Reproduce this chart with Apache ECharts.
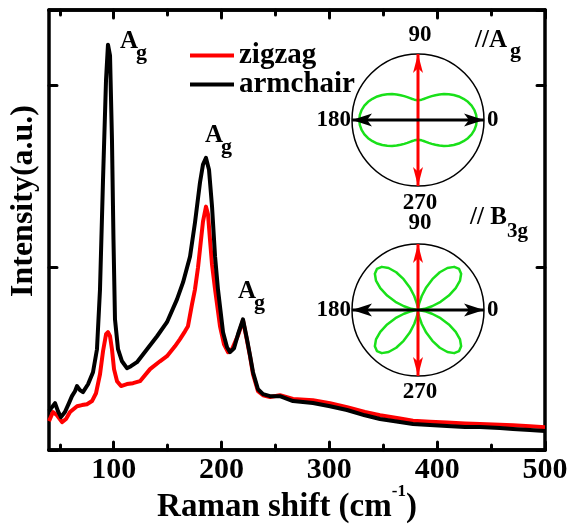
<!DOCTYPE html>
<html><head><meta charset="utf-8">
<script src="https://cdn.jsdelivr.net/npm/echarts@6/dist/echarts.min.js"></script>
<style>html,body{margin:0;padding:0;background:#fff}#c{width:577px;height:531px}</style>
</head><body><div id="c"></div>
<script>
const FONT = '"Times New Roman","Liberation Serif",serif';
const seriesNames = ['zigzag', 'armchair'];
const xMajorTicks = [100, 200, 300, 400, 500];
const xMinorTicks = [50, 150, 250, 350, 450];

// Raman shift (cm-1), intensity (a.u.)
const zigzagPoints = [[40,0.158],[43.7,0.208],[47.4,0.19],[52.1,0.153],[55.8,0.17],[59.5,0.208],[66,0.24],[70.6,0.246],[75.2,0.251],[79.9,0.268],[83.6,0.311],[87.3,0.415],[90.1,0.541],[92.9,0.634],[94.7,0.645],[96.6,0.623],[98.4,0.552],[100.3,0.443],[103.1,0.377],[106.8,0.35],[112.3,0.361],[117.9,0.366],[124.4,0.377],[133.7,0.443],[142.9,0.486],[149.4,0.514],[156.8,0.568],[161.5,0.607],[166.1,0.65],[168.9,0.678],[172.6,0.798],[175.4,0.88],[178.2,1.0],[180,1.098],[182.8,1.251],[185.6,1.333],[187.5,1.29],[189.3,1.153],[191.2,1.016],[194,0.88],[198.6,0.678],[202.3,0.579],[206,0.536],[209.7,0.552],[215.3,0.628],[219.9,0.71],[223.6,0.60],[226.4,0.514],[229.2,0.415],[233.8,0.322],[238.5,0.30],[245,0.29],[254.2,0.30],[266.3,0.28],[284.8,0.272],[300.6,0.256],[316.4,0.235],[333,0.208],[347,0.19],[365.5,0.172],[377.6,0.16],[393.3,0.155],[409.1,0.15],[425.8,0.145],[439.7,0.142],[458.2,0.138],[470.3,0.135],[486,0.13],[500,0.125]];
const armchairPoints = [[40,0.213],[42.8,0.235],[45.6,0.257],[48.3,0.213],[51.1,0.18],[54.8,0.208],[58.5,0.257],[61.3,0.295],[64.1,0.322],[66,0.35],[68.7,0.328],[71.5,0.317],[76.2,0.36],[80.8,0.426],[84.5,0.552],[87.3,0.88],[90.1,1.48],[92.9,2.03],[94.7,2.22],[96.6,2.16],[98.4,1.70],[99.8,1.153],[101.2,0.716],[104,0.552],[107.7,0.486],[112.3,0.448],[116,0.459],[121.6,0.481],[130.9,0.552],[140.2,0.623],[149.4,0.70],[158.7,0.825],[164.3,0.918],[170.8,1.06],[175.4,1.246],[180,1.464],[182.8,1.563],[185.6,1.60],[188.4,1.535],[191.2,1.333],[194,1.06],[196.7,0.88],[201.4,0.645],[205.1,0.563],[207.9,0.536],[211.6,0.557],[215.3,0.634],[219.9,0.716],[223.6,0.607],[226.4,0.519],[229.2,0.426],[233.8,0.333],[238.5,0.306],[245,0.295],[254.2,0.295],[266.3,0.268],[284.8,0.257],[300.6,0.24],[316.4,0.219],[333,0.19],[347,0.17],[365.5,0.153],[377.6,0.142],[393.3,0.137],[409.1,0.131],[425.8,0.126],[439.7,0.126],[458.2,0.12],[470.3,0.115],[486,0.109],[500,0.104]];

// polar insets: angle (deg) and relative intensity
const polarAngles = [0,5,10,15,20,25,30,35,40,45,50,55,60,65,70,75,80,85,90,95,100,105,110,115,120,125,130,135,140,145,150,155,160,165,170,175,180,185,190,195,200,205,210,215,220,225,230,235,240,245,250,255,260,265,270,275,280,285,290,295,300,305,310,315,320,325,330,335,340,345,350,355,360];
const agPattern = [0.89,0.884,0.868,0.841,0.805,0.761,0.713,0.661,0.608,0.555,0.505,0.459,0.418,0.382,0.352,0.329,0.313,0.303,0.299,0.303,0.313,0.329,0.352,0.382,0.418,0.459,0.505,0.555,0.608,0.661,0.713,0.761,0.805,0.841,0.868,0.884,0.89,0.884,0.868,0.841,0.805,0.761,0.713,0.661,0.608,0.555,0.505,0.459,0.418,0.382,0.352,0.329,0.313,0.303,0.299,0.303,0.313,0.329,0.352,0.382,0.418,0.459,0.505,0.555,0.608,0.661,0.713,0.761,0.805,0.841,0.868,0.884,0.89];
const b3gPattern = [0,0.027,0.103,0.22,0.364,0.516,0.66,0.777,0.853,0.88,0.853,0.777,0.66,0.516,0.364,0.22,0.103,0.027,0,0.027,0.103,0.22,0.364,0.516,0.66,0.777,0.853,0.88,0.853,0.777,0.66,0.516,0.364,0.22,0.103,0.027,0,0.027,0.103,0.22,0.364,0.516,0.66,0.777,0.853,0.88,0.853,0.777,0.66,0.516,0.364,0.22,0.103,0.027,0,0.027,0.103,0.22,0.364,0.516,0.66,0.777,0.853,0.88,0.853,0.777,0.66,0.516,0.364,0.22,0.103,0.027,0];
const polarLabels = ['0', '90', '180', '270'];

const chart = echarts.init(document.getElementById('c'), null, {renderer: 'canvas'});

const axisLineStyle = {color: '#000', width: 3.5};
function xAx(pos, ticks, len, labels) {
  return {
    type: 'value', position: pos, min: 40, max: 500,
    axisLine: {show: true, onZero: false, lineStyle: axisLineStyle},
    axisTick: {show: true, inside: true, length: len, customValues: ticks, lineStyle: {color: '#000', width: 3, cap: 'round'}},
    axisLabel: labels ? {show: true, customValues: ticks, margin: 5, color: '#000', fontFamily: FONT, fontWeight: 'bold', fontSize: 30} : {show: false},
    splitLine: {show: false}
  };
}
function yAx(pos) {
  return {
    type: 'value', position: pos, min: 0, max: 2.41, interval: 1,
    axisLine: {show: true, onZero: false, lineStyle: axisLineStyle},
    axisTick: {show: true, inside: true, length: 8, lineStyle: {color: '#000', width: 3, cap: 'round'}},
    axisLabel: {show: false}, splitLine: {show: false}
  };
}
function angleAx(i) {
  return {polarIndex: i, type: 'value', min: 0, max: 360, startAngle: 0, clockwise: false,
    axisLine: {show: true, lineStyle: {color: '#000', width: 1.5}}, axisTick: {show: false},
    axisLabel: {show: false}, splitLine: {show: false}};
}
function radiusAx(i) {
  return {polarIndex: i, type: 'value', min: 0, max: 1, axisLine: {show: false}, axisTick: {show: false},
    axisLabel: {show: false}, splitLine: {show: false}};
}
const arrowPath = 'path://M0,0 L7,20 L0,15 L-7,20 Z';
function arrowLine(pi, a1, a2, color) {
  return {type: 'line', coordinateSystem: 'polar', polarIndex: pi, data: [[1, a1], [1, a2]],
    symbol: 'none', lineStyle: {color: color, width: 3}, silent: true, z: 5};
}
function arrowHeads(pi, a1, r1, a2, r2, color, size) {
  return {type: 'scatter', coordinateSystem: 'polar', polarIndex: pi, symbol: arrowPath, symbolSize: size,
    itemStyle: {color: color, opacity: 1}, silent: true, z: 6,
    data: [{value: [1 - size[1] / 2 / 66, a1], symbolRotate: r1}, {value: [1 - size[1] / 2 / 66, a2], symbolRotate: r2}]};
}
function greenCurve(pi, pattern) {
  return {type: 'line', coordinateSystem: 'polar', polarIndex: pi, smooth: false, symbol: 'none',
    data: polarAngles.map((a, i) => [pattern[i], a]), lineStyle: {color: '#19e019', width: 2.5, join: 'round'}, silent: true, z: 4};
}

function txt(text, x, y, size, align) {
  return {type: 'text', x: x, y: y, style: {text: text, fill: '#000', font: 'bold ' + size + 'px ' + FONT,
    textAlign: align || 'left', textVerticalAlign: 'middle'}, z: 20};
}
function agLabel(x, yA) {
  return [txt('A', x, yA, 25), txt('g', x + 16, yA + 11, 22)];
}

const graphics = [].concat(
  agLabel(120, 42), agLabel(205, 136), agLabel(238, 292),
  [
    txt('//A', 475, 41, 25), txt('g', 510, 51, 22),
    txt('// B', 470, 218, 25), txt('3g', 507, 232, 21),
    txt(polarLabels[1], 420, 35, 23, 'center'), txt(polarLabels[0], 487, 120, 23, 'left'),
    txt(polarLabels[2], 351, 120, 23, 'right'), txt(polarLabels[3], 420, 203, 23, 'center'),
    txt(polarLabels[1], 420, 223, 23, 'center'), txt(polarLabels[0], 487, 310, 23, 'left'),
    txt(polarLabels[2], 351, 310, 23, 'right'), txt(polarLabels[3], 420, 392, 23, 'center'),
    {type: 'text', x: 287, y: 507, style: {text: '{m|Raman shift (cm}{s|-1}{m|)}', textAlign: 'center', textVerticalAlign: 'middle',
      rich: {m: {fontFamily: FONT, fontWeight: 'bold', fontSize: 33, fill: '#000'},
             s: {fontFamily: FONT, fontWeight: 'bold', fontSize: 17, fill: '#000', padding: [0, 0, 30, 0]}}}, z: 20},
    {type: 'text', x: 24, y: 201, rotation: Math.PI / 2, style: {text: 'Intensity(a.u.)', fill: '#000',
      font: 'bold 32px ' + FONT, textAlign: 'center', textVerticalAlign: 'middle'}, z: 20}
  ]
);

chart.setOption({
  animation: false,
  backgroundColor: '#fff',
  grid: {left: 49, right: 32, top: 10, bottom: 81, containLabel: false},
  xAxis: [xAx('bottom', xMajorTicks, 8, true), xAx('bottom', xMinorTicks, 5, false), xAx('top', xMajorTicks, 8, false), xAx('top', xMinorTicks, 5, false)],
  yAxis: [yAx('left'), yAx('right')],
  polar: [{center: [418, 120], radius: 66}, {center: [418, 310], radius: 66}],
  angleAxis: [angleAx(0), angleAx(1)],
  radiusAxis: [radiusAx(0), radiusAx(1)],
  legend: {data: seriesNames, left: 185, top: 36, orient: 'vertical', icon: 'rect', itemWidth: 44, itemHeight: 4, itemGap: 0,
    selectedMode: false, textStyle: {color: '#000', fontFamily: FONT, fontWeight: 'bold', fontSize: 29}},
  series: [
    {name: seriesNames[0], type: 'line', xAxisIndex: 0, yAxisIndex: 0, data: zigzagPoints, symbol: 'none',
      lineStyle: {color: '#ff0000', width: 4, join: 'round'}, itemStyle: {color: '#ff0000'}, z: 2},
    {name: seriesNames[1], type: 'line', xAxisIndex: 0, yAxisIndex: 0, data: armchairPoints, symbol: 'none',
      lineStyle: {color: '#000000', width: 4, join: 'round'}, itemStyle: {color: '#000000'}, z: 3},
    greenCurve(0, agPattern), greenCurve(1, b3gPattern),
    arrowLine(0, 90, 270, '#ff0000'), arrowLine(0, 0, 180, '#000'),
    arrowLine(1, 90, 270, '#ff0000'), arrowLine(1, 0, 180, '#000'),
    arrowHeads(0, 90, 0, 270, 180, '#ff0000', [10, 19]), arrowHeads(0, 0, -90, 180, 90, '#000', [13, 20]),
    arrowHeads(1, 90, 0, 270, 180, '#ff0000', [10, 19]), arrowHeads(1, 0, -90, 180, 90, '#000', [13, 20])
  ],
  graphic: graphics
});
</script></body></html>
